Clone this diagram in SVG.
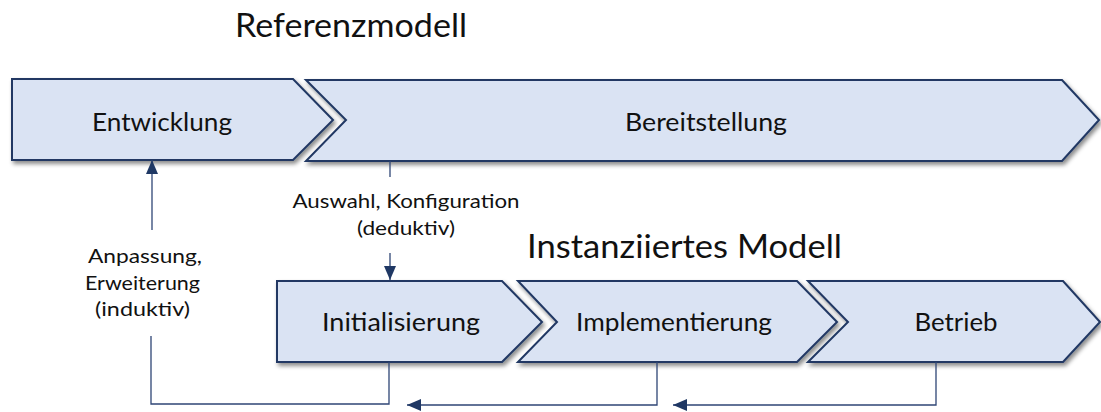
<svg xmlns="http://www.w3.org/2000/svg" width="1101" height="412" viewBox="0 0 1101 412">
  <style>
    .shape { fill: #DAE3F3; stroke: #203864; stroke-width: 2; stroke-linejoin: miter; filter: url(#shadow); }
    .label { font-family: Lato, "Open Sans", "Liberation Sans", sans-serif; fill: #111; text-anchor: middle; }
    .box { font-size: 25px; }
    .title { font-size: 32px; }
    .small { font-size: 20px; }
    .conn { fill: none; stroke: #2F4676; stroke-width: 1.3; }
  </style>
  <defs>
    <filter id="shadow" x="-5%" y="-10%" width="115%" height="140%">
      <feDropShadow dx="2" dy="3" stdDeviation="2" flood-color="#000" flood-opacity="0.45"/>
    </filter>
    <marker id="arrow" markerUnits="userSpaceOnUse" markerWidth="14" markerHeight="12" refX="14" refY="6" orient="auto">
      <path d="M0,0 L14,6 L0,12 z" fill="#1F3864"/>
    </marker>
  </defs>

  <!-- headings -->
  <text class="label title" x="351" y="37" textLength="232" lengthAdjust="spacingAndGlyphs">Referenzmodell</text>
  <text class="label title" x="684.5" y="258" textLength="315" lengthAdjust="spacingAndGlyphs">Instanziiertes Modell</text>

  <!-- reference model phases -->
  <g id="entwicklung">
    <polygon class="shape" points="12,79 293,79 333,120 293,160 12,160"/>
    <text class="label box" x="162" y="131" textLength="140" lengthAdjust="spacingAndGlyphs">Entwicklung</text>
  </g>
  <g id="bereitstellung">
    <polygon class="shape" points="306,80 1062,80 1099,120 1062,161 306,161 346,120"/>
    <text class="label box" x="706" y="131" textLength="162" lengthAdjust="spacingAndGlyphs">Bereitstellung</text>
  </g>

  <!-- instance model phases -->
  <g id="initialisierung">
    <polygon class="shape" points="277,281 502,281 542,322 502,362 277,362"/>
    <text class="label box" x="401" y="331" textLength="158" lengthAdjust="spacingAndGlyphs">Initialisierung</text>
  </g>
  <g id="implementierung">
    <polygon class="shape" points="518,281 797,281 837,322 797,362 518,362 557,322"/>
    <text class="label box" x="674" y="331" textLength="196" lengthAdjust="spacingAndGlyphs">Implementierung</text>
  </g>
  <g id="betrieb">
    <polygon class="shape" points="808,281 1063,281 1100,322 1063,362 808,362 848,322"/>
    <text class="label box" x="956" y="331" textLength="83" lengthAdjust="spacingAndGlyphs">Betrieb</text>
  </g>

  <!-- connectors -->
  <g id="connectors">
    <line class="conn" x1="390" y1="161" x2="390" y2="177"/>
    <line class="conn" x1="390" y1="253" x2="390" y2="280" marker-end="url(#arrow)"/>
    <path class="conn" d="M389,362 V404 H151 V336"/>
    <line class="conn" x1="152" y1="230" x2="152" y2="160" marker-end="url(#arrow)"/>
    <path class="conn" d="M657,362 V405 H407" marker-end="url(#arrow)"/>
    <path class="conn" d="M936,362 V405 H673" marker-end="url(#arrow)"/>
  </g>

  <!-- connector labels -->
  <g id="label-deduktiv">
    <text class="label small" x="406" y="208" textLength="227" lengthAdjust="spacingAndGlyphs">Auswahl, Konfiguration</text>
    <text class="label small" x="406" y="235" textLength="98" lengthAdjust="spacingAndGlyphs">(deduktiv)</text>
  </g>
  <g id="label-induktiv">
    <text class="label small" x="145" y="263" textLength="114" lengthAdjust="spacingAndGlyphs">Anpassung,</text>
    <text class="label small" x="142.5" y="290" textLength="115" lengthAdjust="spacingAndGlyphs">Erweiterung</text>
    <text class="label small" x="142.5" y="316" textLength="95" lengthAdjust="spacingAndGlyphs">(induktiv)</text>
  </g>
</svg>
